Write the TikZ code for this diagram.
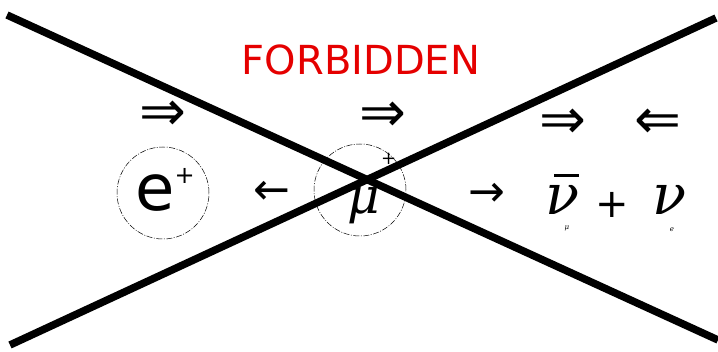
\documentclass[tikz,border=0pt]{standalone}
\usepackage{fontspec}
\setmainfont{DejaVu Sans}
\newfontfamily\serifit{DejaVu Serif}[ItalicFont={DejaVu Serif Italic}]
\begin{document}
\begin{tikzpicture}[x=1pt,y=-1pt,
  cross/.style={line width=7.5pt, black},
  particle/.style={circle, draw, line width=0.5pt, dash pattern=on 6pt off 1.5pt on 1pt off 1.5pt, minimum size=92pt, inner sep=0pt},
  sym/.style={inner sep=0pt, font=\fontsize{44}{44}\selectfont},
  spin/.style={inner sep=0pt, font=\fontsize{56}{56}\selectfont},
  greek/.style={inner sep=0pt, font=\fontsize{56}{56}\selectfont\serifit\itshape},
  subs/.style={inner sep=0pt, font=\fontsize{7}{7}\selectfont\serifit\itshape}]
\useasboundingbox (0,0) rectangle (718,352);
\fill[white] (0,0) rectangle (718,352);
\node[inner sep=0pt, text=red!90!black, font=\fontsize{40}{40}\selectfont] (title) at (361,60) {FORBIDDEN};
% particles
\node[particle] (ecirc) at (163,193) {};
\node[inner sep=0pt, font=\fontsize{64}{64}\selectfont] (e) at (165,190) {e\raisebox{0.42em}{\fontsize{24}{24}\selectfont +}};
\node[particle] (mucirc) at (360,190) {};
\node[inner sep=0pt, font=\fontsize{50}{50}\selectfont\serifit] (mu) at (372,189) {\itshape μ\kern0.02em\raisebox{0.98em}{\upshape\fontsize{18}{18}\selectfont +}};
% spins
\node[spin] (s1) at (163,116) {⇒};
\node[spin] (s2) at (383,117) {⇒};
\node[spin] (s3) at (563,124) {⇒};
\node[spin] (s4) at (658,124) {⇐};
% momenta
\node[sym] (p1) at (272,193) {←};
\node[sym] (p2) at (487,195) {→};
% neutrinos
\node[greek, anchor=base west] (nubar) at (545,215) {ν\llap{\raisebox{0.68em}{\rule{0.45em}{0.055em}}}};
\node[subs] (nubarsub) at (567,228) {μ};
\node[inner sep=0pt, font=\fontsize{40}{40}\selectfont] (plus) at (612,205) {+};
\node[greek, anchor=base west] (nu) at (652,215) {ν};
\node[subs] (nusub) at (672,230) {e};
% cross
\coordinate (tl) at (7,15);
\coordinate (br) at (718,340);
\coordinate (bl) at (10,345);
\coordinate (tr) at (716,18);
\draw[cross] (tl) -- (br);
\draw[cross] (bl) -- (tr);
\end{tikzpicture}
\end{document}
